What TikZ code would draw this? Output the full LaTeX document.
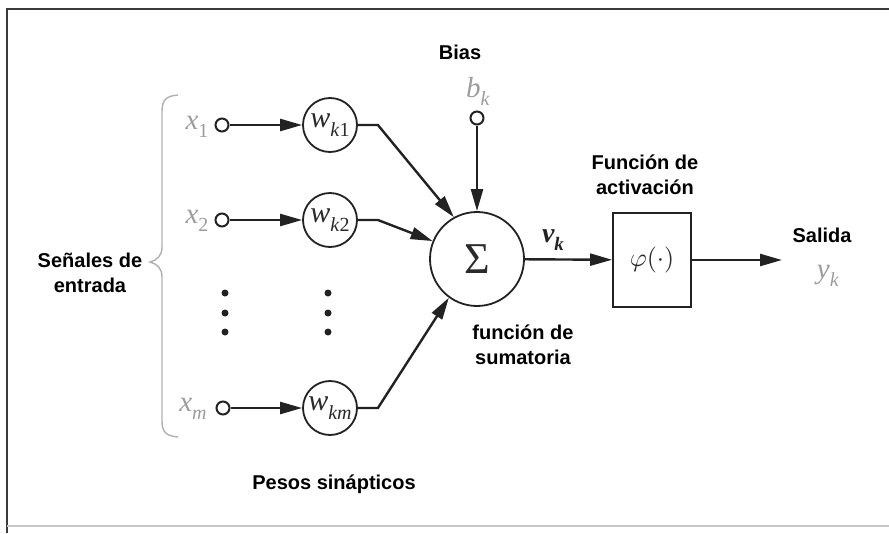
\documentclass[tikz,border=0pt]{standalone}
\usepackage{fix-cm}
\usepackage{fontspec}
\usepackage{graphicx}
\setmainfont{Liberation Sans}
\newfontfamily\tms{Liberation Serif}
\usetikzlibrary{arrows.meta}
\definecolor{linec}{HTML}{222222}
\definecolor{labgray}{HTML}{9C9C9C}
\definecolor{framec}{HTML}{3A3A3A}
\definecolor{bracec}{HTML}{B0B0B0}
\definecolor{textdark}{HTML}{2A2A2A}
\newcommand\mv[2]{{\tms\itshape #1}\raisebox{-0.28em}{\fontsize{20}{22}\selectfont\tms #2}}
\tikzset{
  lbl/.style={text=labgray, font=\fontsize{29}{32}\selectfont, inner sep=0pt},
  wnode/.style={circle, draw=linec, line width=1.8pt, minimum size=54pt, inner sep=0pt,
     font=\fontsize{30}{32}\selectfont, text=textdark},
  pinc/.style={circle, draw=linec, line width=2pt, minimum size=13pt, inner sep=0pt, fill=white},
  arr/.style={-{Triangle[length=22pt,width=12pt]}, line width=2.4pt, draw=linec},
  ttl/.style={font=\bfseries\fontsize{20}{25}\selectfont, align=center, text=black, inner sep=0pt},
  dotn/.style={circle, fill=linec, minimum size=7pt, inner sep=0pt},
}
\begin{document}
\begin{tikzpicture}[x=1pt,y=-1pt]
\useasboundingbox (0,0) rectangle (889,533);
% frame
\draw[framec, line width=1.5pt] (7,533) -- (7,9) -- (889,9);
\draw[gray!45, line width=1.2pt] (7,526) -- (889,526);
% brace
\draw[bracec, line width=1.4pt] (178,95) .. controls (166,96) and (162,100) .. (162,112)
  -- (162,247) .. controls (162,256) and (157,260) .. (150,262)
  .. controls (157,264) and (162,268) .. (162,277)
  -- (162,421) .. controls (162,432) and (166,436) .. (178,437);
% inputs
\node[lbl] (x1) at (197,127) {\mv{x}{1}};
\node[lbl] (x2) at (197,221) {\mv{x}{2}};
\node[lbl] (xm) at (193,409) {\mv{x}{\textit{m}}};
\node[pinc] (p1) at (222,125) {};
\node[pinc] (p2) at (222,220) {};
\node[pinc] (pm) at (223,408) {};
\node[wnode] (w1) at (330,125) {\mv{w}{\textit{k}1}};
\node[wnode] (w2) at (330,220) {\mv{w}{\textit{k}2}};
\node[wnode] (wm) at (330,408) {\mv{w}{\textit{km}}};
% dots
\node[dotn] (d1) at (225,293) {};
\node[dotn] (d2) at (225,313) {};
\node[dotn] (d3) at (225,332) {};
\node[dotn] (e1) at (328,293) {};
\node[dotn] (e2) at (328,313) {};
\node[dotn] (e3) at (328,332) {};
% summation
\node[circle, draw=linec, line width=1.8pt, minimum size=94pt, inner sep=0pt, text=textdark,
  font=\tms\fontsize{44}{46}\selectfont] (sum) at (477,259) {\raisebox{-2pt}{Σ}};
% bias
\node[ttl] (biast) at (460,52) {Bias};
\node[lbl] (bk) at (478,91) {\mv{b}{\textit{k}}};
\node[pinc] (pb) at (477,118) {};
% activation
\node[draw=linec, line width=1.8pt, minimum width=78pt, minimum height=94pt, inner sep=0pt,
  text=textdark] (phi) at (652,260) {\scalebox{2.6}{$\varphi(\cdot)$}};
\node[text=linec, inner sep=0pt, font=\fontsize{28}{30}\selectfont] (vk) at (553,240)
  {{\tms\bfseries\itshape v}\raisebox{-0.28em}{\fontsize{19}{20}\selectfont\tms\bfseries\itshape k}};
\node[ttl] (actt) at (645,175) {Función de\\activación};
\node[ttl] (salt) at (822,235) {Salida};
\node[lbl] (yk) at (828,276) {\mv{y}{\textit{k}}};
\coordinate (outend) at (782,260);
\node[ttl] (sumt) at (523,345) {función de\\sumatoria};
\node[ttl] (pesos) at (334,484) {Pesos sinápticos};
\node[ttl] (senal) at (90,273) {Señales de\\entrada};
% connectors
\draw[arr] (p1) -- (w1);
\draw[arr] (p2) -- (w2);
\draw[arr] (pm) -- (wm);
\draw[arr] (w1.east) -- ++(20,0) -- (sum.119);
\draw[arr] (w2.east) -- ++(20,0) -- (sum.158);
\draw[arr] (wm.east) -- ++(20,0) -- (sum.234);
\draw[arr] (pb) -- (sum);
\draw[arr] (sum) -- (phi);
\draw[arr] (phi) -- (outend);
\end{tikzpicture}
\end{document}
